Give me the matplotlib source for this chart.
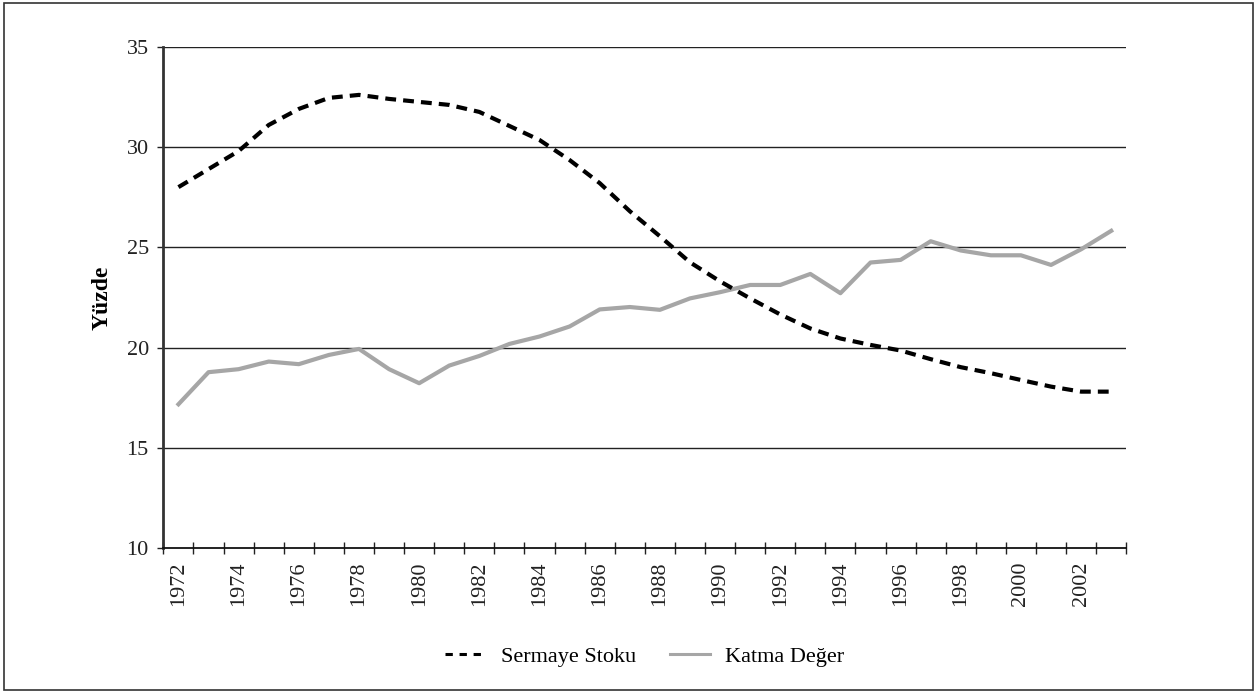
import matplotlib
matplotlib.use("Agg")
import matplotlib.pyplot as plt
from matplotlib.patches import Rectangle

plt.rcParams['font.family'] = ['Liberation Serif', 'DejaVu Serif']

years = list(range(1972, 2004))

# Sermaye Stoku (%), dashed black
sermaye_stoku = [28.0, 28.9, 29.8, 31.1, 31.9, 32.45, 32.6, 32.4, 32.25, 32.1,
                 31.75, 31.05, 30.35, 29.35, 28.2, 26.8, 25.55, 24.25, 23.3, 22.45,
                 21.65, 20.95, 20.45, 20.13, 19.85, 19.42, 19.02, 18.72, 18.38, 18.05,
                 17.8, 17.8]

# Katma Değer (%), solid grey
katma_deger = [17.17, 18.77, 18.92, 19.3, 19.17, 19.63, 19.93, 18.92, 18.22, 19.1,
               19.58, 20.18, 20.55, 21.05, 21.9, 22.02, 21.88, 22.45, 22.76, 23.12,
               23.12, 23.67, 22.71, 24.24, 24.37, 25.3, 24.84, 24.6, 24.6, 24.12,
               24.9, 25.82]

y_ticks = [10, 15, 20, 25, 30, 35]
fs = 16

fig = plt.figure(figsize=(12.57, 6.93), dpi=100)
ax = fig.add_axes([0.130, 0.2092, 0.766, 0.7233])

# frame around the whole figure
fig.patches.append(Rectangle((0.0035, 0.004), 0.993, 0.991, transform=fig.transFigure,
                             fill=False, edgecolor='#333333', linewidth=1.2))

for v in y_ticks[1:]:
    ax.axhline(v, color='#222222', linewidth=1.0, zorder=1)

ax.plot(years, sermaye_stoku, color='black', linewidth=3.0, dashes=(2.6, 1.7),
        label='Sermaye Stoku', zorder=3)
ax.plot(years, katma_deger, color='#a6a6a6', linewidth=3.0,
        label='Katma Değer', zorder=2)

ax.set_xlim(years[0] - 0.5, years[-1] + 0.5)
ax.set_ylim(10, 35)

ax.set_yticks(y_ticks)
ax.set_yticklabels([str(v) for v in y_ticks], fontsize=fs)
ax.tick_params(axis='y', direction='out', length=4.5, width=1.0, pad=6, colors='#222222')

ax.set_xticks(years[::2])
ax.set_xticklabels([str(y) for y in years[::2]], rotation=90, fontsize=fs)
ax.set_xticks([y - 0.5 for y in years] + [years[-1] + 0.5], minor=True)
ax.tick_params(axis='x', which='major', length=0, pad=10, colors='#222222')
ax.tick_params(axis='x', which='minor', direction='inout', length=8, width=1.0, color='#222222')

for side in ['top', 'right']:
    ax.spines[side].set_visible(False)
ax.spines['left'].set_color('#333333')
ax.spines['left'].set_linewidth(2.0)
ax.spines['bottom'].set_color('#111111')
ax.spines['bottom'].set_linewidth(1.3)

ax.set_ylabel('Yüzde', fontsize=17, fontweight='bold', labelpad=10)

leg = fig.legend(loc='center', bbox_to_anchor=(0.513, 0.053), ncol=2, frameon=False,
                 fontsize=fs, handlelength=1.8, columnspacing=1.5, handletextpad=0.7)
for line in leg.get_lines():
    line.set_linewidth(2.2)
leg.get_lines()[0].set_dashes((2.4, 2.2))

fig.savefig('out.png', dpi=100, facecolor='white')
